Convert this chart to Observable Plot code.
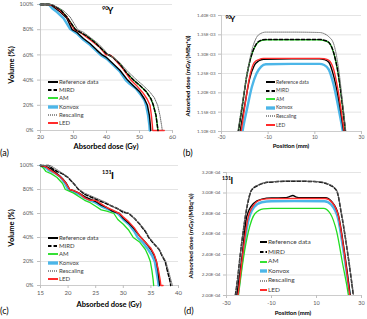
<!DOCTYPE html>
<html><head><meta charset="utf-8">
<script src="https://cdn.jsdelivr.net/npm/d3@7"></script>
<script src="https://cdn.jsdelivr.net/npm/@observablehq/plot@0.6"></script>
<style>
body{margin:0;background:#fff;}
#fig{position:relative;width:367px;height:319px;overflow:hidden;font-family:Lato,"Liberation Sans",sans-serif;background:#fff;}
.pn{position:absolute;}
.pn svg{display:block;}
.t{position:absolute;white-space:nowrap;color:#000;line-height:1;}
.b{font-weight:bold;}
.rot{transform:translate(-50%,-50%) rotate(-90deg);}
.ctr{transform:translate(-50%,-50%);}
.lg{position:absolute;white-space:nowrap;color:#404040;line-height:1;display:flex;align-items:center;}
.lg svg{display:block;margin-right:1px;}
</style></head><body><div id="fig"></div><script>
// ---------- series names ----------
const seriesNames = ["Reference data","MIRD","AM","Konvox","Rescaling","LED"];

// ---------- panel (a): 90Y DVH, [dose Gy, volume %] ----------
const aReference = [[20,100],[23,100],[24,98],[26,94],[28,89],[29.6,80],[31,78],[33,73],[35,69],[37,64],[38.7,60],[40,58],[42,53],[44,48],[46.4,40],[48,36],[50,31],[51.5,25],[52.4,20],[53,12],[53.3,4],[53.4,0]];
const aMIRD      = [[20,100],[23,100],[24,99],[26,96],[28,90],[30.6,80],[32,78],[34,75],[36,71],[38,66],[40,61],[42,58],[44,53],[46,46],[48.2,40],[50,36],[52,31],[53.5,25],[54.2,20],[55,12],[55.4,4],[55.6,0]];
const aAM        = [[20,100],[23,100],[24,99],[26,96],[28,90],[30.6,80],[32,78],[34,75],[36,71],[38,66],[40,61],[42,58],[44,53],[46,46],[48.2,40],[50,36],[52,31],[53.5,25],[54.2,20],[55,12],[55.4,4],[55.6,0]];
const aKonvox    = [[20,100],[22.5,100],[23.5,97],[25,94],[27,89],[29,80.5],[31,77],[33,72],[35,68],[37,63],[38.2,60],[40,57],[42,52],[44,47],[45.8,40],[47,37],[49,33],[50.5,28],[51.5,24],[52,20],[52.6,12],[53,4],[53.1,0]];
const aRescaling = [[20,100],[23.5,100],[25,98],[27,95],[29,90],[31.3,80],[33,78],[35,74],[37,70],[39,65],[40.6,60],[42,58],[44,54],[46,48],[49.2,40],[51,36],[53,31],[54.5,26],[55.5,20],[56.2,12],[56.7,4],[56.9,0]];
const aLED       = [[20,100],[22.5,100],[24,99],[26,95],[28,90],[30.3,80],[32,78],[34,74],[36,70],[38,66],[39.8,60],[41,60],[42,58],[44,52],[45,49],[47.4,40],[49,36],[51,30],[52.3,25],[53.2,20],[53.6,12],[53.9,4],[54,0],[57.5,0]];

// ---------- panel (b): 90Y profile, [position mm, dose E-03] ----------
const bReference = [[-23,1.06],[-22,1.10],[-20,1.17],[-18,1.235],[-16,1.27],[-14,1.283],[-12,1.287],[0,1.288],[12,1.288],[14,1.286],[16,1.279],[18,1.245],[20,1.19],[22,1.115],[24,1.03]];
const bMIRD      = [[-24,1.04],[-23,1.09],[-21,1.17],[-19,1.25],[-17,1.30],[-15,1.327],[-13,1.336],[-11,1.338],[0,1.338],[12,1.338],[14,1.336],[16,1.33],[18,1.305],[20,1.25],[22,1.16],[24,1.05]];
const bAM        = [[-24,1.04],[-23,1.09],[-21,1.17],[-19,1.25],[-17,1.30],[-15,1.326],[-13,1.335],[-11,1.337],[0,1.337],[12,1.337],[14,1.335],[16,1.33],[18,1.305],[20,1.25],[22,1.16],[24,1.05]];
const bKonvox    = [[-22,1.06],[-21,1.10],[-19,1.16],[-17,1.215],[-15,1.25],[-13,1.268],[-11,1.274],[0,1.275],[12,1.275],[14,1.272],[16,1.26],[18,1.222],[20,1.165],[22,1.10],[23.5,1.04]];
const bRescaling = [[-24.5,1.04],[-23,1.10],[-21,1.175],[-19,1.25],[-17,1.31],[-15,1.343],[-13,1.354],[-11,1.357],[0,1.357],[12,1.356],[14,1.353],[16,1.345],[18,1.328],[20,1.27],[22,1.17],[24,1.06]];
const bLED       = [[-22.5,1.07],[-21.6,1.10],[-20,1.165],[-18,1.24],[-16,1.278],[-14,1.286],[-12,1.289],[0,1.289],[12,1.289],[14,1.288],[16,1.284],[18,1.262],[20,1.205],[22,1.125],[24,1.04]];

// ---------- panel (c): 131I DVH, [dose Gy, volume %] ----------
const cReference = [[15,100],[16,99],[17,97],[18,93],[19,89],[19.7,85],[20.3,80],[21,79],[22,77],[23,74],[24,72],[25,70],[26,67],[27,65],[28,62],[29.3,60],[30,56],[31,52],[32,47],[33,41],[34,36],[35,30],[35.6,25],[36,20],[36.3,12],[36.5,4],[36.6,0]];
const cMIRD      = [[15,100],[16.5,100],[17,98],[18,95],[19,93],[20,90],[21,85],[21.9,80],[23,76],[24,74],[25,72],[26,70],[27,68],[28,66],[29,64],[30,61],[31,60],[32,56],[33,51],[34,45],[34.6,40],[35.5,35],[36.5,30],[37,25],[37.6,20],[38,12],[38.4,5],[38.6,0]];
const cAM        = [[15,100],[15.5,98],[16,95],[17,93],[18,90],[19,85],[19.5,80],[21,77],[22,74],[23,71],[24,69],[25,66],[26,63],[27,62],[28.3,60],[29,55],[30,51],[31,46],[31.8,40],[33,36],[34,30],[34.5,25],[34.9,20],[35.2,12],[35.4,5],[35.5,0]];
const cKonvox    = [[15,100],[16,98],[16.5,96],[17.5,94],[18.5,91],[19.3,86],[20,80],[21,78],[22,76],[23,73],[24,71],[25,69],[26,66],[27,64],[28,62],[29,60],[30,55],[31,51],[32,45],[32.6,40],[33.5,36],[34.5,30],[35.2,25],[35.7,20],[36,12],[36.3,4],[36.4,0]];
const cRescaling = [[15,100],[16.8,100],[17.5,98],[18.5,95],[19.5,92],[20.5,88],[22,80],[23,77],[24,75],[25,73],[26,71],[27,69],[28,66],[29,64],[30,62],[31,60],[32,56],[33,51],[34,46],[34.7,40],[35.6,35],[36.5,30],[37.1,25],[37.7,20],[38.2,12],[38.6,5],[38.9,0]];
const cLED       = [[15,100],[16,99],[16.5,97],[17.5,94],[18.5,91],[19.5,86],[20.3,80],[21,79],[22,77],[23,73],[24,71],[25,71],[26,68],[27,65],[28,63],[29.3,60],[30,57],[31,53],[32,48],[33,41],[34,36],[35,31],[35.6,26],[36,20],[36.4,12],[36.7,4],[36.8,0],[37.2,0]];

// ---------- panel (d): 131I profile, [position mm, dose E-04] ----------
const dReference = [[-26,1.9],[-25.4,2.00],[-23.2,2.36],[-21,2.77],[-18,2.898],[-14.3,2.94],[-10,2.952],[-4,2.953],[-2,2.965],[-0.5,2.975],[1,2.96],[3,2.953],[13.9,2.953],[16.8,2.914],[19.8,2.78],[22,2.49],[25,2.00],[25.6,1.9]];
const dMIRD      = [[-27,1.9],[-26.1,2.00],[-23.2,2.52],[-21,2.85],[-18.8,3.03],[-15.8,3.076],[-11.3,3.105],[0,3.115],[10.1,3.11],[16.1,3.076],[19,3.02],[21.2,2.78],[24.2,2.36],[26.4,2.00],[27,1.9]];
const dAM        = [[-25.3,1.9],[-24.7,2.00],[-22.5,2.36],[-20.3,2.62],[-17.3,2.80],[-13.6,2.845],[-10,2.85],[0,2.85],[13.1,2.85],[16.1,2.80],[19,2.62],[21.7,2.30],[24.2,2.00],[24.8,1.9]];
const dKonvox    = [[-25.5,1.9],[-25,2.00],[-22.8,2.38],[-20.5,2.71],[-17.8,2.86],[-14.3,2.91],[-10,2.92],[0,2.921],[13.5,2.92],[16.6,2.885],[19.6,2.75],[21.9,2.45],[24.8,2.00],[25.4,1.9]];
const dRescaling = [[-27,1.9],[-26,2.00],[-23.2,2.53],[-21,2.86],[-18.8,3.035],[-15.8,3.08],[-11.3,3.108],[0,3.118],[10.1,3.113],[16.1,3.08],[19,3.025],[21.2,2.79],[24.2,2.37],[26.5,2.00],[27.1,1.9]];
const dLED       = [[-25.5,1.9],[-24.9,2.00],[-22.8,2.40],[-20.6,2.74],[-18,2.88],[-14.5,2.935],[-10,2.945],[0,2.946],[13.9,2.946],[16.8,2.91],[19.8,2.77],[22,2.47],[24.8,2.00],[25.4,1.9]];

// ---------- ticks and tick labels ----------
const aXTicks = [20,30,40,50,60];
const aYTicks = [0,20,40,60,80,100];
const aYLabels = ["0%","20%","40%","60%","80%","100%"];
const bXTicks = [-30,-10,10,30];
const bYTicks = [1.10,1.15,1.20,1.25,1.30,1.35,1.40];
const bYLabels = ["1.10E-03","1.15E-03","1.20E-03","1.25E-03","1.30E-03","1.35E-03","1.40E-03"];
const cXTicks = [15,20,25,30,35,40];
const cYTicks = [0,20,40,60,80,100];
const cYLabels = ["0%","20%","40%","60%","80%","100%"];
const dXTicks = [-30,-10,10,30];
const dYTicks = [2.00,2.20,2.40,2.60,2.80,3.00,3.20];
const dYLabels = ["2.00E-04","2.20E-04","2.40E-04","2.60E-04","2.80E-04","3.00E-04","3.20E-04"];

// ---------- styles ----------
const styleOf = {
  "Reference data": {stroke:"#000000", w:1.4},
  "MIRD": {stroke:"#000000", w:1.5, dash:"3.5,2"},
  "AM": {stroke:"#22dd22", w:1.3},
  "Konvox": {stroke:"#4cb6e8", w:2.4},
  "Rescaling": {stroke:"#6e6e6e", w:1, dash:"1,1"},
  "LED": {stroke:"#ff2b2b", w:1.4}
};
const drawOrder = ["Konvox","AM","Reference data","LED","MIRD","Rescaling"];

const fig = document.getElementById("fig");
function addText(txt, left, top, cls, size, extra) {
  const d = document.createElement("div");
  d.className = "t " + (cls||"");
  d.style.left = left + "px"; d.style.top = top + "px";
  d.style.fontSize = size + "px";
  if (extra) Object.assign(d.style, extra);
  d.textContent = txt;
  fig.appendChild(d);
  return d;
}

function panel(cfg) {
  const dataBy = cfg.data;
  const lines = drawOrder.map(n => Plot.line(dataBy[n], {
    x: d => d[0], y: d => d[1],
    stroke: styleOf[n].stroke, strokeWidth: styleOf[n].w,
    strokeDasharray: styleOf[n].dash, clip: cfg.clip, curve: cfg.curve
  }));
  const yFmt = v => cfg.yLabels[cfg.yTicks.indexOf(v)];
  const p = Plot.plot({
    width: cfg.w, height: cfg.h,
    marginLeft: cfg.ml, marginRight: cfg.mr, marginTop: cfg.mt, marginBottom: cfg.mb,
    x: {domain: cfg.xDomain}, y: {domain: cfg.yDomain},
    style: {background: "transparent", fontFamily: "Lato, 'Liberation Sans', sans-serif", overflow: "visible"},
    marks: [
      Plot.ruleY(cfg.yTicks.slice(1), {stroke: "#d9d9d9", strokeWidth: 0.7}),
      Plot.ruleX([cfg.xDomain[0]], {stroke: "#bfbfbf", strokeWidth: 0.8}),
      Plot.ruleY([cfg.yDomain[0]], {stroke: "#bfbfbf", strokeWidth: 0.8}),
      Plot.axisY(cfg.yTicks, {tickSize: 3, tickPadding: cfg.yPad, tickFormat: yFmt, stroke: "#bfbfbf", fill: "#595959", fontSize: cfg.yFont, label: null}),
      Plot.axisX(cfg.xTicks, {tickSize: 3, tickPadding: cfg.xPad, tickFormat: d => String(d), stroke: "#bfbfbf", fill: "#595959", fontSize: cfg.xFont, label: null}),
      ...lines
    ]
  });
  const div = document.createElement("div");
  div.className = "pn";
  div.style.left = cfg.left + "px"; div.style.top = cfg.top + "px";
  div.appendChild(p);
  fig.appendChild(div);
}

function legend(left, top, rowH, lineW, size) {
  seriesNames.forEach((n, i) => {
    const s = styleOf[n];
    const row = document.createElement("div");
    row.className = "lg";
    row.style.left = left + "px";
    row.style.top = (top + i * rowH - 3) + "px";
    row.style.height = "6px";
    row.style.fontSize = size + "px";
    const ns = "http://www.w3.org/2000/svg";
    const svg = document.createElementNS(ns, "svg");
    svg.setAttribute("width", lineW); svg.setAttribute("height", 6);
    const ln = document.createElementNS(ns, "line");
    ln.setAttribute("x1", 0); ln.setAttribute("x2", lineW);
    ln.setAttribute("y1", 3); ln.setAttribute("y2", 3);
    ln.setAttribute("stroke", s.stroke); ln.setAttribute("stroke-width", s.w * 1.4);
    if (s.dash) ln.setAttribute("stroke-dasharray", s.dash);
    svg.appendChild(ln);
    row.appendChild(svg);
    const sp = document.createElement("span");
    sp.textContent = n;
    row.appendChild(sp);
    fig.appendChild(row);
  });
}

// panel (a)
panel({left:0, top:0, w:183, h:158, ml:40, mr:11, mt:4, mb:28,
  xDomain:[20,60], yDomain:[0,100], xTicks:aXTicks, yTicks:aYTicks, yLabels:aYLabels,
  xPad:1, yPad:4, xFont:6, yFont:5.5, clip:false, curve:"linear",
  data:{"Reference data":aReference, "MIRD":aMIRD, "AM":aAM, "Konvox":aKonvox, "Rescaling":aRescaling, "LED":aLED}});
// panel (b)
panel({left:183, top:0, w:184, h:158, ml:38, mr:6, mt:15, mb:27,
  xDomain:[-30,30], yDomain:[1.10,1.40], xTicks:bXTicks, yTicks:bYTicks, yLabels:bYLabels,
  xPad:1, yPad:3, xFont:5, yFont:4.5, clip:true, curve:"monotone-x",
  data:{"Reference data":bReference, "MIRD":bMIRD, "AM":bAM, "Konvox":bKonvox, "Rescaling":bRescaling, "LED":bLED}});
// panel (c)
panel({left:0, top:158, w:183, h:161, ml:40, mr:5, mt:7, mb:34,
  xDomain:[15,40], yDomain:[0,100], xTicks:cXTicks, yTicks:cYTicks, yLabels:cYLabels,
  xPad:2, yPad:4, xFont:6, yFont:5.5, clip:false, curve:"linear",
  data:{"Reference data":cReference, "MIRD":cMIRD, "AM":cAM, "Konvox":cKonvox, "Rescaling":cRescaling, "LED":cLED}});
// panel (d)
panel({left:183, top:158, w:184, h:161, ml:43, mr:6, mt:14, mb:24,
  xDomain:[-30,30], yDomain:[2.00,3.20], xTicks:dXTicks, yTicks:dYTicks, yLabels:dYLabels,
  xPad:3, yPad:3, xFont:5.5, yFont:4.6, clip:true, curve:"monotone-x",
  data:{"Reference data":dReference, "MIRD":dMIRD, "AM":dAM, "Konvox":dKonvox, "Rescaling":dRescaling, "LED":dLED}});

// axis titles
addText("Absorbed dose (Gy)", 106, 147, "b ctr", 7.5);
addText("Volume (%)", 12, 65, "b rot", 7.5);
addText("Position (mm)", 291, 146, "b ctr", 6);
addText("Absorbed dose (mGy/(MBq*s))", 188, 76, "b rot", 6);
addText("Absorbed dose (Gy)", 109, 305, "b ctr", 7.5);
addText("Volume (%)", 12, 228, "b rot", 7.5);
addText("Position (mm)", 293, 313, "b ctr", 6);
addText("Absorbed dose (mGy/(MBq*s))", 191, 236, "b rot", 6.3);

// panel letters
addText("(a)", 0, 148, "", 9);
addText("(b)", 183, 148, "", 9);
addText("(c)", 0, 306, "", 9);
addText("(d)", 184, 306, "", 9);

// isotope labels
addText("90", 102, 6, "b", 5.5);
addText("Y", 107.5, 6, "b", 9);
addText("90", 225.5, 15, "b", 4.8);
addText("Y", 230, 15, "b", 8);
addText("131", 102, 170, "b", 5.5);
addText("I", 111, 169.5, "b", 10);
addText("131", 222, 176, "b", 5.2);
addText("I", 230.5, 175.5, "b", 9);

// legends
legend(48, 82, 8.2, 10, 6);
legend(266, 82, 8.6, 9, 5);
legend(48, 238, 8.2, 10, 6);
legend(260, 242.3, 9.6, 7, 6.5);
</script></body></html>
